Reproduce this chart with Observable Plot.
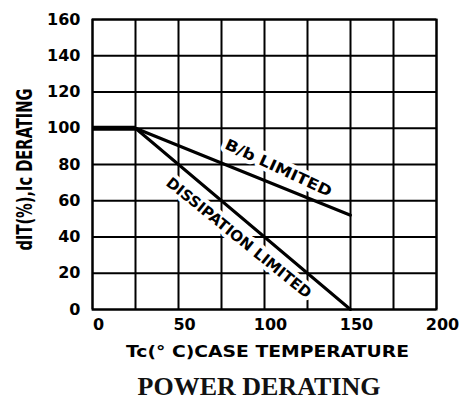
<!DOCTYPE html>
<html>
<head>
<meta charset="utf-8">
<script src="https://cdn.jsdelivr.net/npm/d3@7"></script>
<script src="https://cdn.jsdelivr.net/npm/@observablehq/plot@0.6"></script>
<style>
  html, body { margin: 0; padding: 0; background: #fff; }
  #chart { width: 468px; }
  #title { width: 468px; box-sizing: border-box; padding-left: 50px; margin-top: 7px; text-align: center;
    font-family: "Liberation Serif", serif; font-weight: bold; font-size: 26px; line-height: 28px; color: #111; }
</style>
</head>
<body>
<div id="chart"></div>
<div id="title">POWER DERATING</div>
<script>
// Data
const xTicks = [0, 50, 100, 150, 200];
const yTicks = [0, 20, 40, 60, 80, 100, 120, 140, 160];
const xGrid = [0, 25, 50, 75, 100, 125, 150, 175, 200];

const flatTemp = [0, 25];
const flatPct = [100, 100];

const sbTemp = [25, 150];
const sbPct = [100, 52];

const dissTemp = [25, 150];
const dissPct = [100, 0];

const curveLabels = ["B/b LIMITED", "DISSIPATION LIMITED"];
const curveLabelTemp = [108, 85];
const curveLabelPct = [78, 39.5];

const xLabel = "Tc(° C)CASE TEMPERATURE";
const yLabel = "dIT(%),Ic DERATING";

const toRows = (xs, ys) => xs.map((x, i) => ({x, y: ys[i]}));
const font = "'DejaVu Sans', sans-serif";

const plot = Plot.plot({
  width: 468,
  height: 366,
  marginTop: 19,
  marginRight: 32,
  marginBottom: 57,
  marginLeft: 92,
  style: {fontFamily: font, fontWeight: "bold", fontSize: "16px", color: "#000", background: "#fff"},
  x: {domain: [0, 200], axis: null},
  y: {domain: [0, 160], axis: null},
  marks: [
    Plot.gridX(xGrid, {stroke: "#000", strokeOpacity: 1, strokeWidth: 2}),
    Plot.gridY(yTicks, {stroke: "#000", strokeOpacity: 1, strokeWidth: 2}),
    Plot.frame({stroke: "#000", strokeWidth: 2}),
    Plot.text([0], {x: () => curveLabelTemp[0], y: () => curveLabelPct[0], text: () => curveLabels[0],
      rotate: 25, fontSize: 15, fontWeight: "bold", fill: "#000", stroke: "#fff", strokeWidth: 8}),
    Plot.text([1], {x: () => curveLabelTemp[1], y: () => curveLabelPct[1], text: () => curveLabels[1],
      rotate: 39, fontSize: 15, fontWeight: "bold", fill: "#000", stroke: "#fff", strokeWidth: 8}),
    Plot.line(toRows(flatTemp, flatPct), {x: "x", y: "y", stroke: "#000", strokeWidth: 5, strokeLinecap: "butt"}),
    Plot.line(toRows(sbTemp, sbPct), {x: "x", y: "y", stroke: "#000", strokeWidth: 3}),
    Plot.line(toRows(dissTemp, dissPct), {x: "x", y: "y", stroke: "#000", strokeWidth: 3}),
    Plot.axisX(xTicks, {tickSize: 0, tickPadding: 9, dx: 6, fontSize: 16, fontWeight: "bold", label: null}),
    Plot.axisY(yTicks, {tickSize: 0, tickPadding: 12, fontSize: 16, fontWeight: "bold", label: null}),
    Plot.text([xLabel], {frameAnchor: "bottom", textAnchor: "middle", lineAnchor: "middle", dx: 3, dy: 43,
      fontSize: 15, fontWeight: "bold", fill: "#000"}),
    Plot.text([yLabel], {frameAnchor: "left", textAnchor: "middle", lineAnchor: "middle", dx: -68, dy: 5,
      rotate: -90, fontSize: 22, fontWeight: "bold", fill: "#000"})
  ]
});

document.getElementById("chart").append(plot);

// Squeeze the blocky labels to the widths seen in the reference
const lengths = {
  "B/b LIMITED": 116,
  "DISSIPATION LIMITED": 182,
  "Tc(° C)CASE TEMPERATURE": 283,
  "dIT(%),Ic DERATING": 162
};
d3.select(plot).selectAll("text").each(function() {
  const t = this.textContent;
  if (lengths[t]) {
    d3.select(this).attr("textLength", lengths[t]).attr("lengthAdjust", "spacingAndGlyphs");
  }
});
</script>
</body>
</html>
